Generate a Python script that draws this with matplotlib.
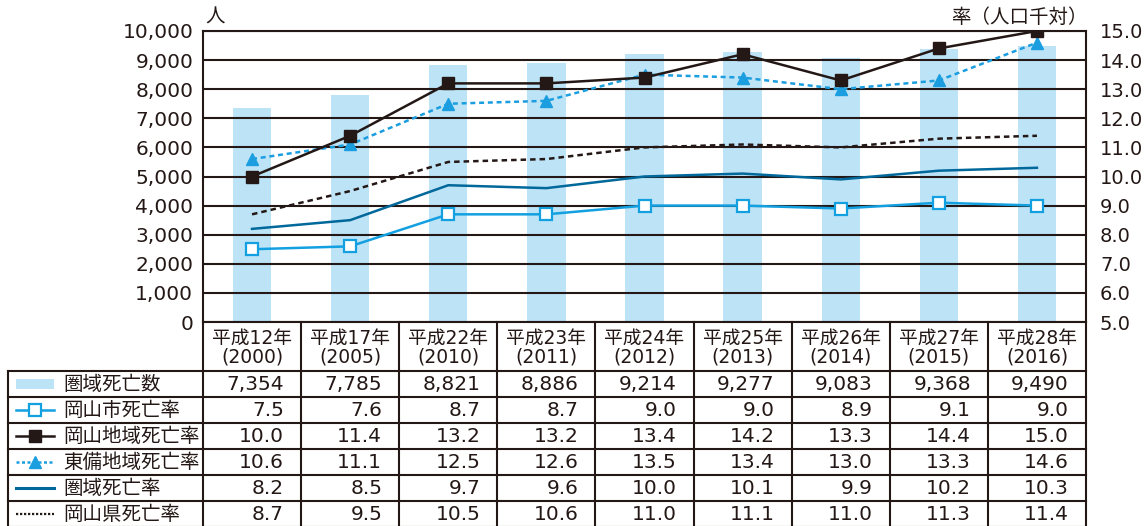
import matplotlib.pyplot as plt
from matplotlib.patches import Rectangle

plt.rcParams["font.family"] = ["Noto Sans CJK JP", "DejaVu Sans"]
NUMFONT = ["DejaVu Sans", "Noto Sans CJK JP"]

# ---------------------------------------------------------------------------
# Data
# ---------------------------------------------------------------------------
years = ["平成12年\n(2000)", "平成17年\n(2005)", "平成22年\n(2010)",
         "平成23年\n(2011)", "平成24年\n(2012)", "平成25年\n(2013)",
         "平成26年\n(2014)", "平成27年\n(2015)", "平成28年\n(2016)"]
deaths = [7354, 7785, 8821, 8886, 9214, 9277, 9083, 9368, 9490]
okayama_city = [7.5, 7.6, 8.7, 8.7, 9.0, 9.0, 8.9, 9.1, 9.0]
okayama_area = [10.0, 11.4, 13.2, 13.2, 13.4, 14.2, 13.3, 14.4, 15.0]
tobi_area = [10.6, 11.1, 12.5, 12.6, 13.5, 13.4, 13.0, 13.3, 14.6]
region_rate = [8.2, 8.5, 9.7, 9.6, 10.0, 10.1, 9.9, 10.2, 10.3]
pref_rate = [8.7, 9.5, 10.5, 10.6, 11.0, 11.1, 11.0, 11.3, 11.4]

row_labels = ["圏域死亡数", "岡山市死亡率", "岡山地域死亡率",
              "東備地域死亡率", "圏域死亡率", "岡山県死亡率"]

# ---------------------------------------------------------------------------
# Style
# ---------------------------------------------------------------------------
INK = "#231815"
BAR = "#bde3f7"
CITY = "#12a0e0"
TOBI = "#1a9ee0"
REGION = "#00689a"

W, H = 1147, 526
fig = plt.figure(figsize=(W / 100, H / 100), dpi=100)

x0, x1 = 203, 1086
y_top, y_bot = 31, 322
ax = fig.add_axes([x0 / W, 1 - y_bot / H, (x1 - x0) / W, (y_bot - y_top) / H])
xs = list(range(len(years)))

ax.bar(xs, deaths, width=0.39, color=BAR, zorder=1)
ax.set_xlim(-0.5, len(years) - 0.5)
ax.set_ylim(0, 10000)
ax.set_yticks(range(0, 10001, 1000))
ax.set_yticklabels([f"{v:,}" for v in range(0, 10001, 1000)],
                   fontsize=14.5, color=INK, family=NUMFONT)
ax.tick_params(axis="y", length=0, pad=7)
ax.set_xticks([])
ax.grid(axis="y", color=INK, linewidth=1.5, zorder=2)
ax.set_axisbelow(False)
for s in ["left", "top", "right"]:
    ax.spines[s].set_color(INK)
    ax.spines[s].set_linewidth(1.5)
ax.spines["bottom"].set_visible(False)
for gl in ax.get_ygridlines():
    gl.set_zorder(2)

ax2 = ax.twinx()
ax2.set_ylim(5.0, 15.0)
ax2.set_yticks([5 + i for i in range(11)])
ax2.set_yticklabels([f"{5 + i:.1f}" for i in range(11)], fontsize=14,
                    color=INK, family=NUMFONT)
ax2.tick_params(axis="y", length=0, pad=10)
for s in ["left", "top", "right", "bottom"]:
    ax2.spines[s].set_visible(False)

ax2.plot(xs, pref_rate, color=INK, linewidth=1.8, linestyle=(0, (2.2, 1.6)), zorder=3)
ax2.plot(xs, region_rate, color=REGION, linewidth=1.8, zorder=3)
ax2.plot(xs, okayama_city, color=CITY, linewidth=1.8, marker="s", markersize=9,
         markerfacecolor="white", markeredgecolor=CITY, markeredgewidth=1.6, zorder=4)
ax2.plot(xs, tobi_area, color=TOBI, linewidth=1.8, linestyle=(0, (2.0, 1.5)),
         marker="^", markersize=8, markerfacecolor=TOBI, markeredgecolor=TOBI, zorder=4)
ax2.plot(xs, okayama_area, color=INK, linewidth=1.8, marker="s", markersize=9,
         markerfacecolor=INK, markeredgecolor=INK, zorder=5)

fig.text(205 / W, 1 - 17 / H, "人", fontsize=14, color=INK, va="center", ha="left")
fig.text(1088 / W, 1 - 17 / H, "率（人口千対）", fontsize=14, color=INK,
         va="center", ha="right")

# ---------------------------------------------------------------------------
# Data table (pixel coordinates)
# ---------------------------------------------------------------------------
tb = fig.add_axes([0, 0, 1, 1], facecolor="none")
tb.set_xlim(0, W)
tb.set_ylim(H, 0)
tb.axis("off")

col_w = (x1 - x0) / len(years)
col_edges = [x0 + i * col_w for i in range(len(years) + 1)]
header_bot = 371
row_h = 26
row_edges = [header_bot + i * row_h for i in range(len(row_labels) + 1)]
lw = 1.5

tb.plot([x0, x1], [y_bot, y_bot], color=INK, lw=lw)
for cx in col_edges:
    tb.plot([cx, cx], [y_bot, H + 5], color=INK, lw=lw)
tb.plot([8, 8], [header_bot, H + 5], color=INK, lw=lw)
for ry in row_edges:
    tb.plot([8, x1], [ry, ry], color=INK, lw=lw)

for i, lab in enumerate(years):
    tb.text(x0 + (i + 0.5) * col_w, (y_bot + header_bot) / 2 + 1, lab,
            ha="center", va="center", fontsize=13.5, color=INK,
            linespacing=1.0, family=NUMFONT)

rows = [
    [f"{v:,}" for v in deaths],
    [f"{v:.1f}" for v in okayama_city],
    [f"{v:.1f}" for v in okayama_area],
    [f"{v:.1f}" for v in tobi_area],
    [f"{v:.1f}" for v in region_rate],
    [f"{v:.1f}" for v in pref_rate],
]
for r, vals in enumerate(rows):
    cy = row_edges[r] + row_h / 2
    tb.text(63, cy, row_labels[r], ha="left", va="center", fontsize=14, color=INK)
    for i, v in enumerate(vals):
        tb.text(col_edges[i + 1] - 17, cy + 1, v, ha="right", va="center",
                fontsize=14.5, color=INK, family=NUMFONT)

# legend glyphs
gx0, gx1 = 16, 54
cy = [row_edges[r] + row_h / 2 for r in range(len(row_labels))]
tb.add_patch(Rectangle((gx0, cy[0] - 5), gx1 - gx0, 10, color=BAR, lw=0))
tb.plot([gx0, gx1], [cy[1]] * 2, color=CITY, lw=1.8)
tb.plot([(gx0 + gx1) / 2], [cy[1]], marker="s", markersize=9, color=CITY,
        markerfacecolor="white", markeredgewidth=1.6)
tb.plot([gx0, gx1], [cy[2]] * 2, color=INK, lw=1.8)
tb.plot([(gx0 + gx1) / 2], [cy[2]], marker="s", markersize=9, color=INK)
tb.plot([gx0, gx1], [cy[3]] * 2, color=TOBI, lw=1.8, linestyle=(0, (1.2, 1.0)))
tb.plot([(gx0 + gx1) / 2], [cy[3]], marker="^", markersize=8, color=TOBI)
tb.plot([gx0, gx1], [cy[4]] * 2, color=REGION, lw=2.2)
tb.plot([gx0, gx1], [cy[5]] * 2, color=INK, lw=1.6, linestyle=(0, (1.0, 0.8)))

fig.savefig("out.png", dpi=100)
